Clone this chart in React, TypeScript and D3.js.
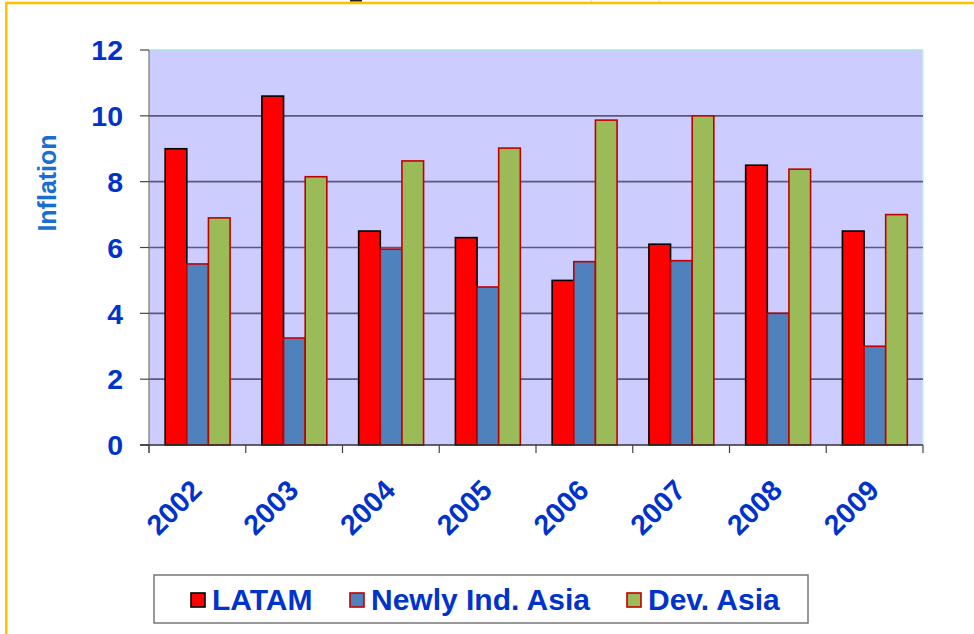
import React from "react";
import * as d3 from "d3";

const years = ["2002", "2003", "2004", "2005", "2006", "2007", "2008", "2009"];
const seriesNames = ["LATAM", "Newly Ind. Asia", "Dev. Asia"];
const latam = [9.0, 10.6, 6.5, 6.3, 5.0, 6.1, 8.5, 6.5];
const newlyIndAsia = [5.5, 3.25, 5.95, 4.8, 5.57, 5.6, 4.0, 3.0];
const devAsia = [6.9, 8.15, 8.63, 9.02, 9.87, 10.0, 8.38, 7.0];
const yTicks = [0, 2, 4, 6, 8, 10, 12];

const fills = ["#FF0000", "#4F81BD", "#9BBB59"];
const strokes = ["#000000", "#C00000", "#C00000"];
const legendX = [191, 350, 627];

export default function App() {
  const W = 974, H = 634;
  const left = 149, right = 923, top = 50, bottom = 445;
  const x0 = d3.scaleBand<string>().domain(years).range([left, right]).padding(0);
  const bw = x0.bandwidth();
  const x1 = d3.scaleBand<string>().domain(seriesNames).range([bw * 0.167, bw * 0.838]).padding(0);
  const y = d3.scaleLinear().domain([0, 12]).range([bottom, top]);
  const data = [latam, newlyIndAsia, devAsia];
  const font = "'Liberation Sans', Arial, sans-serif";

  return (
    <svg width={W} height={H} style={{ position: "absolute", left: 0, top: 0, background: "#fff" }} fontFamily={font}>
      <rect x={0} y={0} width={W} height={H} fill="#fff" />
      {/* outer orange frame */}
      <rect x={6.3} y={3} width={W + 10} height={H + 10} fill="none" stroke="#FFC000" strokeWidth={2.5} />
      <rect x={350} y={0} width={12} height={1.5} fill="#222" />
      <line x1={591} x2={591} y1={0} y2={2} stroke="#bbb" strokeWidth={0.6} />
      <line x1={659} x2={659} y1={0} y2={2} stroke="#bbb" strokeWidth={0.6} />

      {/* plot area */}
      <rect x={left} y={top} width={right - left} height={bottom - top} fill="#CCCCFF" />
      <line x1={left} x2={right} y1={top} y2={top} stroke="#A8E6E6" strokeWidth={1.5} />
      <line x1={right} x2={right} y1={top} y2={bottom} stroke="#C8F0F0" strokeWidth={1.5} />
      {yTicks.filter(t => t > 0 && t < 12).map(t => (
        <line key={t} x1={left} x2={right} y1={y(t)} y2={y(t)} stroke="#5A5A78" strokeWidth={1.6} />
      ))}
      {/* y axis */}
      <line x1={left} x2={left} y1={top} y2={bottom + 8} stroke="#777" strokeWidth={1.2} />
      {yTicks.map(t => (
        <g key={t}>
          <line x1={left - 9} x2={left} y1={y(t)} y2={y(t)} stroke="#444" strokeWidth={1.2} />
          <text x={123} y={y(t)} dy="0.36em" textAnchor="end" fontSize={28.5} fontWeight="bold" fill="#0033CC">{t}</text>
        </g>
      ))}
      <text transform={`translate(56,183) rotate(-90)`} textAnchor="middle" fontSize={25} fontWeight="bold" fill="#1A6ECF">Inflation</text>

      {/* bars */}
      {years.map((yr, i) => (
        <g key={yr} transform={`translate(${x0(yr)},0)`}>
          {seriesNames.map((s, k) => (
            <rect key={s} x={x1(s)} y={y(data[k][i])} width={x1.bandwidth()} height={bottom - y(data[k][i])}
              fill={fills[k]} stroke={strokes[k]} strokeWidth={1.6} />
          ))}
        </g>
      ))}

      {/* x axis */}
      <line x1={left - 9} x2={right} y1={bottom} y2={bottom} stroke="#333" strokeWidth={1.4} />
      {years.concat(["end"]).map((yr, i) => {
        const xx = left + i * bw;
        return <line key={yr} x1={xx} x2={xx} y1={bottom} y2={bottom + 8} stroke="#444" strokeWidth={1.2} />;
      })}
      {years.map(yr => {
        const cx = (x0(yr) as number) + bw / 2 + 6;
        return (
          <text key={yr} transform={`translate(${cx},${bottom + 47}) rotate(-45)`} textAnchor="end" fontSize={28.5} fontWeight="bold" fill="#0033CC">{yr}</text>
        );
      })}

      {/* legend */}
      <rect x={154} y={575} width={654} height={48} fill="#fff" stroke="#777" strokeWidth={1.5} />
      {seriesNames.map((s, k) => (
        <g key={s}>
          <rect x={legendX[k]} y={593} width={14} height={14} fill={fills[k]} stroke={strokes[k]} strokeWidth={1.6} />
          <text x={legendX[k] + 21} y={610} fontSize={30} fontWeight="bold" fill="#0033CC">{s}</text>
        </g>
      ))}
    </svg>
  );
}
